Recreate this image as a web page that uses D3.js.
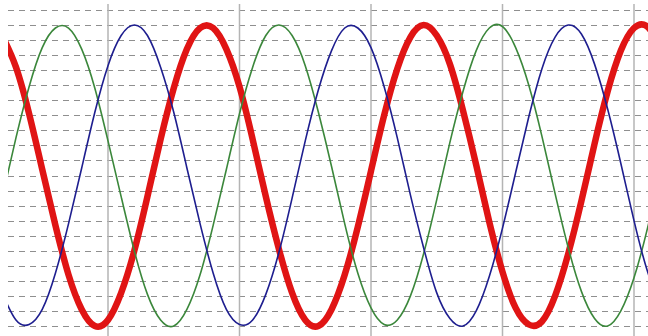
<!DOCTYPE html>
<html>
<head>
<meta charset="utf-8" />
<title>Three phase waveform</title>
<script src="https://d3js.org/d3.v7.min.js"></script>
<style>
body { margin: 0; background: #ffffff; }
svg { display: block; background: #ffffff; }
.hgrid line { stroke: #8f8f8f; stroke-width: 1; stroke-dasharray: 6,5; }
.vgrid line { stroke: #b4b4b4; stroke-width: 1.5; }
</style>
</head>
<body>
<div id="chart"></div>
<script>
/* time in ms, values in per-unit */
var time = [2,3,4,5,6,7,8,9,10,11,12,13,14,15,16,17,18,19,20,21,22,23,24,25,26,27,
            28,29,30,31,32,33,34,35,36,37,38,39,40,41,42,43,44,45,46,47,48,49,50,51,52];
var phaseA = [0.92,0.72,0.41,0.04,-0.33,-0.66,-0.89,-1.00,-0.96,-0.78,-0.50,-0.14,0.24,0.58,0.84,0.98,
              0.98,0.84,0.59,0.24,-0.14,-0.49,-0.78,-0.96,-1.00,-0.89,-0.66,-0.34,0.03,0.40,0.71,0.92,
              1.00,0.93,0.74,0.43,0.07,-0.31,-0.64,-0.88,-0.99,-0.97,-0.80,-0.52,-0.17,0.21,0.56,0.83,
              0.98,0.99,0.86];
var phaseB = [-0.79,-0.96,-0.99,-0.89,-0.65,-0.32,0.05,0.42,0.73,0.93,1.00,0.93,0.72,0.42,0.05,-0.32,
              -0.65,-0.89,-0.99,-0.96,-0.79,-0.51,-0.15,0.23,0.57,0.83,0.98,0.98,0.85,0.59,0.25,-0.13,
              -0.48,-0.78,-0.95,-1.00,-0.90,-0.67,-0.35,0.02,0.39,0.71,0.92,1.00,0.94,0.74,0.44,0.08,
              -0.30,-0.63,-0.87];
var phaseC = [-0.13,0.25,0.59,0.85,0.98,0.98,0.84,0.58,0.23,-0.14,-0.50,-0.79,-0.96,-1.00,-0.89,-0.66,
              -0.33,0.04,0.41,0.72,0.93,1.00,0.93,0.73,0.42,0.06,-0.32,-0.65,-0.88,-0.99,-0.96,-0.80,
              -0.52,-0.16,0.22,0.56,0.83,0.98,0.99,0.85,0.60,0.26,-0.12,-0.48,-0.77,-0.95,-1.00,-0.90,
              -0.68,-0.36,0.02];
var hTicks = [-1.0,-0.9,-0.8,-0.7,-0.6,-0.5,-0.4,-0.3,-0.2,-0.1,0,0.1,0.2,0.3,0.4,0.5,0.6,0.7,0.8,0.9,1.0,1.1];
var vTicks = [10,20,30,40,50];

var width = 648, height = 336;
var left = 8;

var svg = d3.select("#chart").append("svg")
    .attr("width", width)
    .attr("height", height);

var x = d3.scaleLinear().domain([0, 50]).range([-23.5, 634]);
var y = d3.scaleLinear().domain([-1, 1]).range([326, 25]);

svg.append("defs").append("clipPath").attr("id", "plotclip")
  .append("rect")
    .attr("x", left).attr("y", 0)
    .attr("width", width - left).attr("height", height);

// dashed horizontal grid
svg.append("g").attr("class", "hgrid")
  .selectAll("line")
  .data(hTicks)
  .enter().append("line")
    .attr("x1", left).attr("x2", width)
    .attr("y1", function(d) { return Math.round(y(d)) + 0.5; })
    .attr("y2", function(d) { return Math.round(y(d)) + 0.5; });

// solid vertical grid
svg.append("g").attr("class", "vgrid")
  .selectAll("line")
  .data(vTicks)
  .enter().append("line")
    .attr("x1", function(d) { return x(d); })
    .attr("x2", function(d) { return x(d); })
    .attr("y1", 4).attr("y2", height);

var series = [
  { name: "A", values: phaseA, color: "#e01414", width: 6.5 },
  { name: "C", values: phaseC, color: "#3b873b", width: 1.6 },
  { name: "B", values: phaseB, color: "#1e1e8f", width: 1.6 }
];

var line = d3.line()
    .x(function(d, i) { return x(time[i]); })
    .y(function(d) { return y(d); })
    .curve(d3.curveNatural);

svg.append("g").attr("clip-path", "url(#plotclip)")
  .selectAll("path")
  .data(series)
  .enter().append("path")
    .attr("fill", "none")
    .attr("stroke", function(d) { return d.color; })
    .attr("stroke-width", function(d) { return d.width; })
    .attr("stroke-linejoin", "round")
    .attr("d", function(d) { return line(d.values); });
</script>
</body>
</html>
